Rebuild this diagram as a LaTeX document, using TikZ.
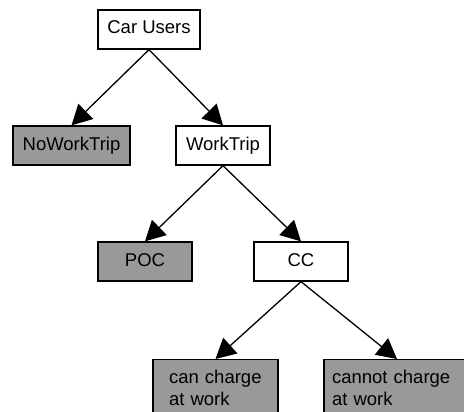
\documentclass[tikz,border=0pt]{standalone}
\usepackage{fontspec}
\setmainfont{Liberation Sans}
\usetikzlibrary{arrows.meta}
\definecolor{leafgray}{RGB}{153,153,153}
\tikzset{
  box/.style={draw=black, line width=1.3pt, rectangle, inner sep=0pt,
    minimum height=39pt, text height=13.5pt, text depth=4.5pt,
    font=\fontsize{18.5}{22}\selectfont},
  openbox/.style={box, fill=white},
  leafbox/.style={box, fill=leafgray},
  tallbox/.style={draw=black, line width=1.3pt, rectangle, fill=leafgray,
    anchor=north, align=left, inner ysep=10.8pt,
    font=\fontsize{18.5}{22}\selectfont},
  edge/.style={line width=1.3pt, -{Triangle[length=20pt,width=21pt]}}
}
\begin{document}
\begin{tikzpicture}[x=1pt,y=-1pt]
  \useasboundingbox (0,0) rectangle (464,412);
  \clip (0,0) rectangle (464,412);
  \fill[white] (0,0) rectangle (464,412);

  % decision tree
  \node[openbox, minimum width=102pt] (users) at (149,29.5) {Car Users};
  \node[leafbox, minimum width=117pt] (nowork) at (71.5,145.5) {NoWorkTrip};
  \node[openbox, minimum width=94pt] (work) at (223,145.5) {WorkTrip};
  \node[leafbox, minimum width=94pt] (poc) at (145,261.5) {POC};
  \node[openbox, minimum width=94pt] (cc) at (301,261.5) {CC};
  \node[tallbox, text width=93pt, inner xsep=16pt] (can) at (215.5,359)
    {can charge\\at work};
  \node[tallbox, text width=130pt, inner xsep=8pt] (cannot) at (397,359)
    {cannot charge\\at work};

  \draw[edge] (users.south) -- (nowork.north);
  \draw[edge] (users.south) -- (work.north);
  \draw[edge] (work.south) -- (poc.north);
  \draw[edge] (work.south) -- (cc.north);
  \draw[edge] (cc.south) -- (can.north);
  \draw[edge] (cc.south) -- (cannot.north);
\end{tikzpicture}
\end{document}
